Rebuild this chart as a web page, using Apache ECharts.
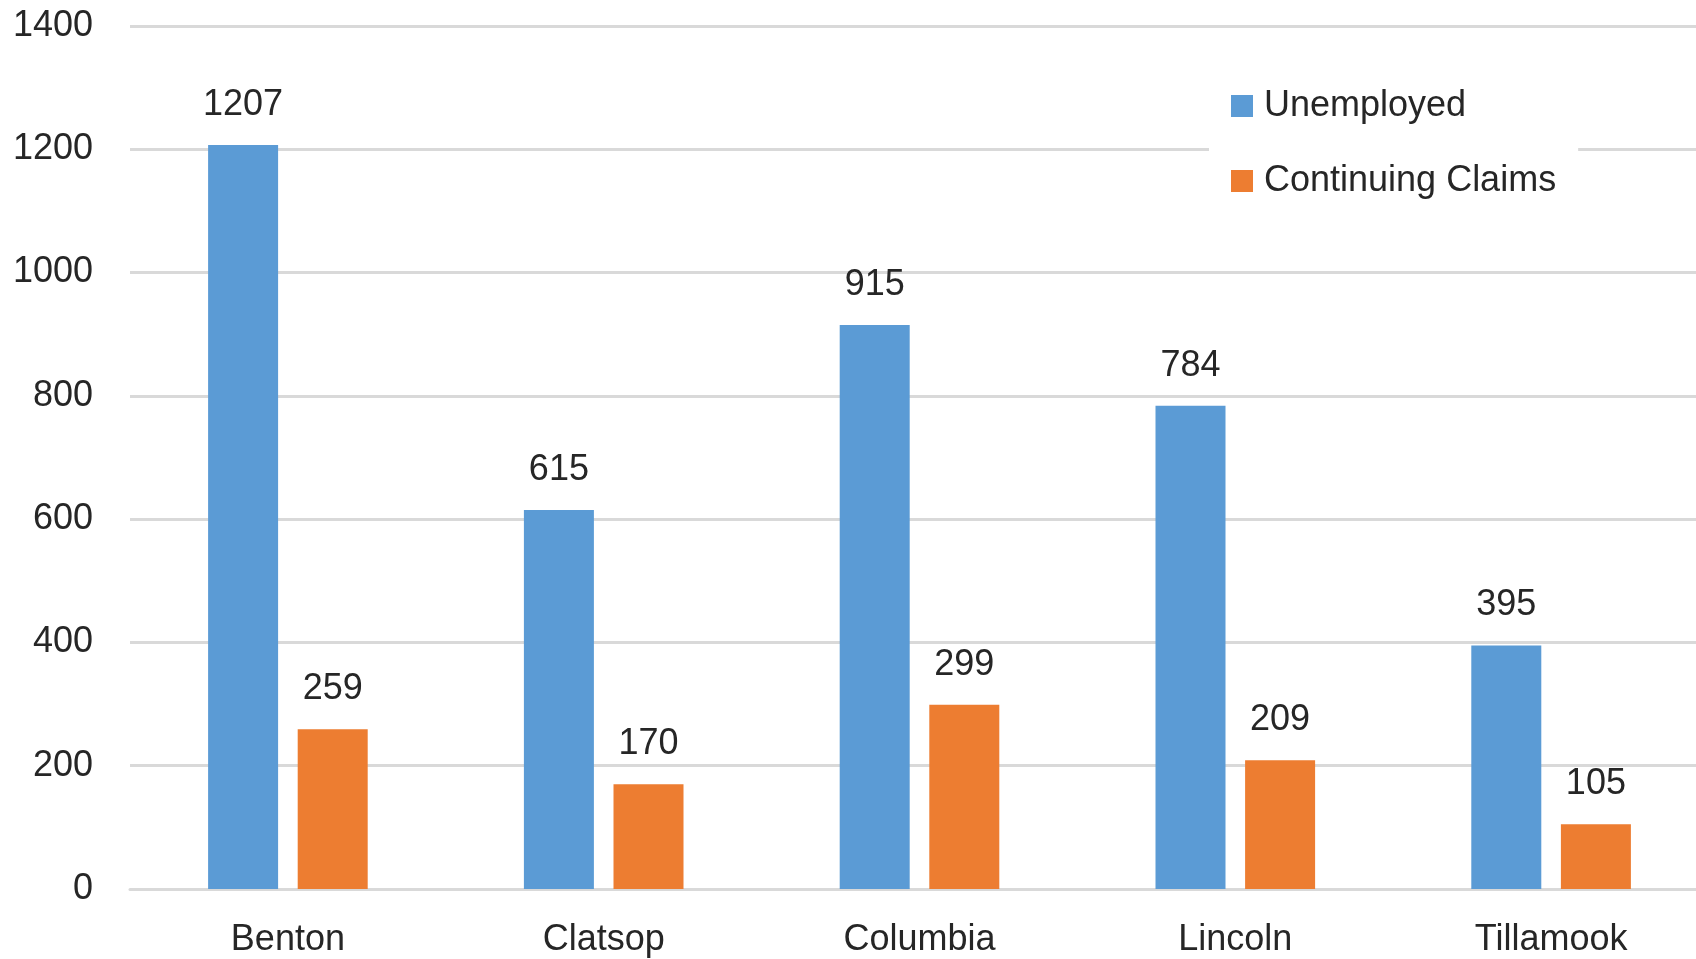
<!DOCTYPE html>
<html><head><meta charset="utf-8">
<script src="https://cdn.jsdelivr.net/npm/echarts@6/dist/echarts.min.js"></script>
<style>html,body{margin:0;padding:0;background:#fff}#c{width:1696px;height:959px}</style>
</head><body><div id="c"></div>
<script>
const categories = ['Benton','Clatsop','Columbia','Lincoln','Tillamook'];
const unemployed = [1207,615,915,784,395];
const continuingClaims = [259,170,299,209,105];
const seriesNames = ['Unemployed','Continuing Claims'];

const font = 'Liberation Sans';
const chart = echarts.init(document.getElementById('c'));
chart.setOption({
  animation:false,
  textStyle:{fontFamily:font},
  grid:{left:130,width:1579,top:26,bottom:70,outerBoundsMode:'none',containLabel:false},
  legend:{
    orient:'vertical', left:1209, top:80,
    padding:[8,22,8,22],
    backgroundColor:'#fff',
    itemWidth:22,itemHeight:22,itemGap:39,
    icon:'rect',
    textStyle:{fontSize:36,color:'#262626',fontFamily:font,padding:[0,0,0,6]},
    data:seriesNames
  },
  xAxis:{
    type:'category',data:categories,
    axisLine:{lineStyle:{color:'#d9d9d9',width:3}},
    axisTick:{show:false},
    axisLabel:{fontSize:36,color:'#262626',margin:33}
  },
  yAxis:{
    type:'value',min:0,max:1400,interval:200,
    axisLine:{show:false},axisTick:{show:false},
    splitLine:{lineStyle:{color:'#d9d9d9',width:3}},
    axisLabel:{fontSize:36,color:'#262626',margin:37,formatter:v=>String(v)}
  },
  series:[
    {name:seriesNames[0],type:'bar',data:unemployed,barWidth:70,barGap:'28%',
     itemStyle:{color:'#5B9BD5'},
     label:{show:true,position:'top',distance:22,fontSize:36,color:'#262626'}},
    {name:seriesNames[1],type:'bar',data:continuingClaims,barWidth:70,
     itemStyle:{color:'#ED7D31'},
     label:{show:true,position:'top',distance:22,fontSize:36,color:'#262626'}}
  ]
});
</script></body></html>
